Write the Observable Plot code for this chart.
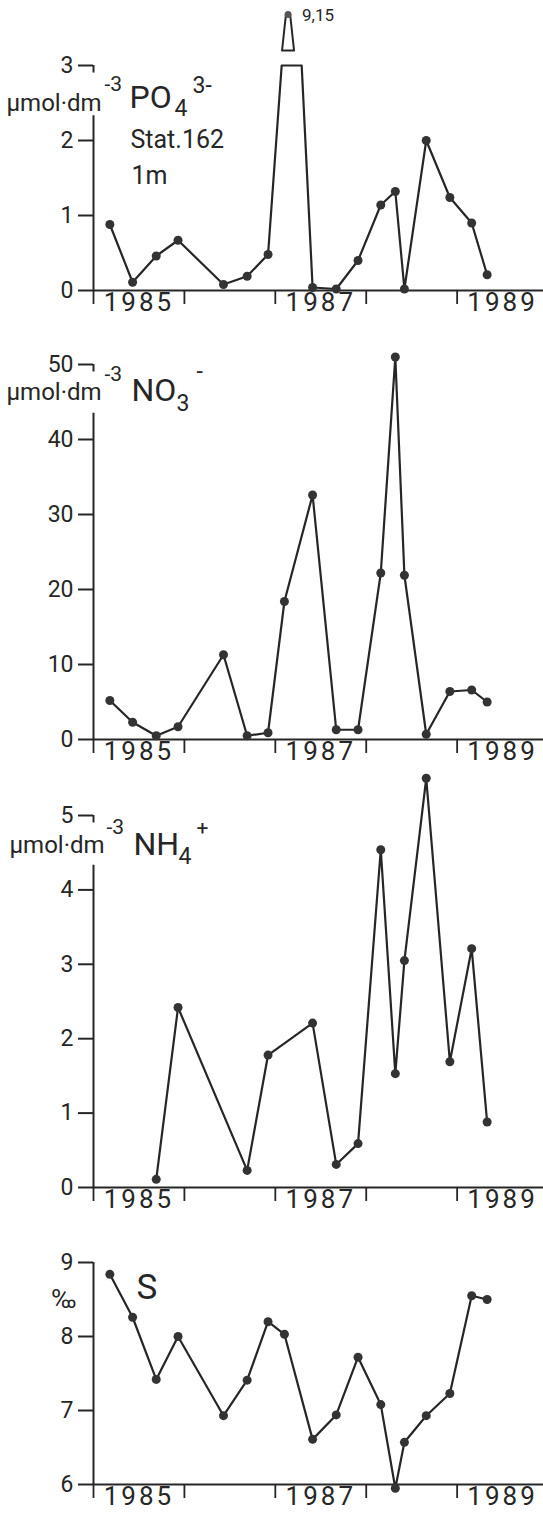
<!DOCTYPE html>
<html><head><meta charset="utf-8">
<script src="https://cdn.jsdelivr.net/npm/d3@7"></script>
<script src="https://cdn.jsdelivr.net/npm/@observablehq/plot@0.6"></script>
<style>
html,body{margin:0;padding:0;background:#fff;overflow:hidden;}
#chart svg{display:block;}
#chart [aria-label="x-axis tick label"]{letter-spacing:3px;}
</style></head><body><div id="chart"></div>
<script>
// ---- data ----
const sampleTimes = [1985.18,1985.43,1985.69,1985.93,1986.43,1986.69,1986.92,1987.10,1987.41,1987.67,1987.91,1988.16,1988.32,1988.42,1988.66,1988.92,1989.16,1989.33];
const po4 = [0.88,0.11,0.46,0.67,0.08,0.19,0.48,9.15,0.04,0.02,0.40,1.14,1.32,0.02,2.00,1.24,0.90,0.21];
const no3 = [5.2,2.3,0.5,1.7,11.3,0.5,0.9,18.4,32.6,1.3,1.3,22.2,51.0,21.9,0.7,6.4,6.6,5.0];
const nh4 = [null,null,0.11,2.42,null,0.23,1.78,null,2.21,0.31,0.59,4.54,1.53,3.05,5.50,1.69,3.21,0.88];
const salinity = [8.84,8.26,7.42,8.00,6.93,7.41,8.20,8.03,6.61,6.94,7.72,7.08,5.95,6.57,6.93,7.23,8.55,8.50];
const yearTicks = [1985,1986,1987,1988,1989];
const yearLabels = [1985,1987,1989];
const po4Ticks = [0,1,2,3];
const no3Ticks = [0,10,20,30,40,50];
const nh4Ticks = [0,1,2,3,4,5];
const salTicks = [6,7,8,9];

// ---- style ----
const INK = "#262626";
const FONT = "Roboto, 'DejaVu Sans', sans-serif";
const W = 543, ML = 93;
const xDomain = [1985, 1989.95];
const pinShape = {draw(ctx, l, r) { ctx.moveTo(-r, 0); ctx.lineTo(-r * 0.35, -l); ctx.lineTo(r * 0.35, -l); ctx.lineTo(r, 0); ctx.closePath(); }};

function panel(cfg){
  const rows = sampleTimes.map((t,i)=>({t, v: cfg.values[i]})).filter(d=>d.v!=null);
  const cap = cfg.cap ?? Infinity;
  const lineRows = rows.flatMap(d => d.v > cap
    ? [{t: d.t + cfg.capSpan[0], v: cap}, {t: d.t + cfg.capSpan[1], v: cap}]
    : [d]);
  const dotRows = rows.filter(d => d.v <= cap);
  const peakRows = rows.filter(d => d.v > cap);
  const y0 = cfg.domain[0];
  const marks = [
    Plot.ruleX(cfg.axisSegs, {x: () => xDomain[0], y1: d => d[0], y2: d => d[1], stroke: INK, strokeWidth: 2}),
    Plot.ruleY([y0], {stroke: INK, strokeWidth: 2}),
    Plot.axisY({ticks: cfg.ticks, tickSize: 15, tickPadding: 5, label: null, fontSize: 23, tickFormat: d => String(d), stroke: INK, strokeWidth: 2}),
    Plot.axisX({ticks: yearTicks, tickSize: 14, tickFormat: () => "", label: null, stroke: INK, strokeWidth: 1.8}),
    Plot.axisX({ticks: yearLabels.map(y => y + 0.5), tickSize: 0, tickPadding: 2, fontSize: 26, label: null, tickFormat: d => String(Math.floor(d))}),
    Plot.line(lineRows, {x: "t", y: "v", stroke: INK, strokeWidth: 2.2}),
    Plot.dot(dotRows, {x: "t", y: "v", r: 4.5, fill: "#333"}),
  ];
  if (peakRows.length) {
    const px = d => d.t + cfg.pinOffset;
    marks.push(Plot.vector(peakRows, {x: px, y: () => cap, length: 36, r: 6, dy: -15, anchor: "start", shape: pinShape, fill: "white", stroke: INK, strokeWidth: 2}));
    marks.push(Plot.dot(peakRows, {x: px, y: () => cap, dy: -51, r: 3.5, fill: "#555"}));
    marks.push(Plot.text(peakRows, {x: px, y: () => cap, dy: -50, dx: 14, text: d => d3.format(".2f")(d.v).replace(".", ","), textAnchor: "start", fontSize: 17, fill: INK}));
  }
  for (const l of cfg.labels) {
    marks.push(Plot.text([l.text], {frameAnchor: "top-left", dx: l.x - ML, dy: l.y - cfg.top - cfg.marginTop, text: d => d, textAnchor: "start", lineAnchor: "bottom", fontSize: l.size, fill: INK}));
  }
  return Plot.plot({
    width: W, height: cfg.height,
    marginLeft: ML, marginRight: 0, marginTop: cfg.marginTop, marginBottom: cfg.height - cfg.marginTop - cfg.inner,
    x: {domain: xDomain},
    y: {domain: cfg.domain},
    style: {fontFamily: FONT, color: INK, background: "white", overflow: "visible"},
    marks
  });
}

const panels = [
  {top: 0, height: 320, marginTop: 65, inner: 225, domain: [0,3], ticks: po4Ticks, values: po4,
   cap: 3, capSpan: [-0.03, 0.19], pinOffset: 0.04, axisSegs: [[0,2.33],[2.9,3]],
   labels: [
     {text: "µmol·dm", x: 6, y: 110, size: 24},
     {text: "-3", x: 104, y: 90, size: 21},
     {text: "PO", x: 129, y: 107, size: 32},
     {text: "4", x: 174, y: 115, size: 23},
     {text: "3-", x: 192, y: 92, size: 23},
     {text: "Stat.162", x: 130, y: 147, size: 25},
     {text: "1m", x: 131, y: 183, size: 25}
   ]},
  {top: 320, height: 450, marginTop: 44, inner: 375, domain: [0,50], ticks: no3Ticks, values: no3,
   axisSegs: [[0,43.5],[49,50]],
   labels: [
     {text: "µmol·dm", x: 6, y: 399, size: 24},
     {text: "-3", x: 104, y: 380, size: 21},
     {text: "NO", x: 131, y: 400, size: 32},
     {text: "3", x: 176, y: 410, size: 23},
     {text: "-", x: 196, y: 378, size: 23}
   ]},
  {top: 770, height: 447, marginTop: 45, inner: 372, domain: [0,5], ticks: nh4Ticks, values: nh4,
   axisSegs: [[0,4.33],[4.9,5]],
   labels: [
     {text: "µmol·dm", x: 9, y: 852, size: 24},
     {text: "-3", x: 106, y: 833, size: 21},
     {text: "NH", x: 133, y: 854, size: 32},
     {text: "4", x: 178, y: 863, size: 23},
     {text: "+", x: 196, y: 834, size: 21}
   ]},
  {top: 1217, height: 297, marginTop: 45, inner: 222, domain: [6,9], ticks: salTicks, values: salinity,
   axisSegs: [[6,9]],
   labels: [
     {text: "‰", x: 51, y: 1307, size: 26},
     {text: "S", x: 136, y: 1298, size: 35}
   ]}
];

const root = document.getElementById("chart");
for (const p of panels) root.appendChild(panel(p));
</script></body></html>
